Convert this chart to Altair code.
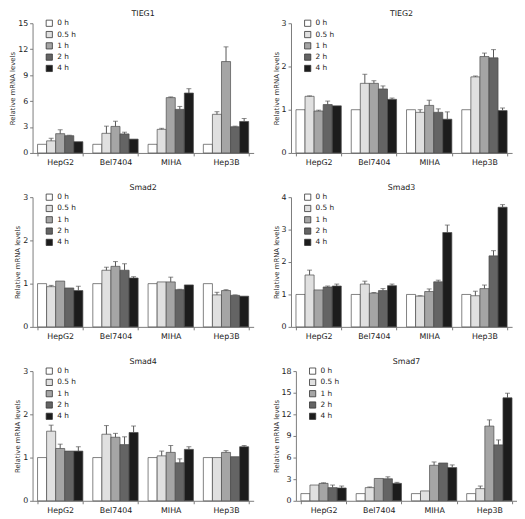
import altair as alt
import pandas as pd

lines = ["HepG2", "Bel7404", "MIHA", "Hep3B"]
times = ["0 h", "0.5 h", "1 h", "2 h", "4 h"]
colors = ["#ffffff", "#e0e0e0", "#a5a5a5", "#646464", "#1c1c1c"]

# means per cell line (5 time points each) and error magnitudes
TIEG1_mean = [1.0, 1.40, 2.23, 2.00, 1.30,  1.0, 2.27, 3.07, 2.20, 1.60,
              1.0, 2.73, 6.40, 5.04, 6.93,  1.0, 4.47, 10.57, 3.03, 3.64]
TIEG1_err = [0, 0.30, 0.45, 0.05, 0,  0, 0.83, 0.60, 0.20, 0,
             0, 0.12, 0.08, 0.34, 0.50,  0, 0.30, 1.70, 0.07, 0.34]

TIEG2_mean = [1.0, 1.31, 0.97, 1.12, 1.09,  1.0, 1.61, 1.61, 1.48, 1.24,
              1.0, 0.94, 1.10, 0.94, 0.78,  1.0, 1.76, 2.23, 2.20, 0.98]
TIEG2_err = [0, 0.01, 0.02, 0.08, 0,  0, 0.21, 0.06, 0.07, 0.03,
             0, 0.06, 0.12, 0.08, 0.17,  0, 0.02, 0.08, 0.19, 0.06]

Smad2_mean = [1.0, 0.93, 1.06, 0.90, 0.84,  1.0, 1.31, 1.40, 1.31, 1.13,
              1.0, 1.04, 1.04, 0.86, 0.97,  1.0, 0.74, 0.84, 0.73, 0.71]
Smad2_err = [0, 0.03, 0, 0, 0.10,  0, 0.07, 0.11, 0.15, 0.03,
             0, 0, 0.11, 0.01, 0,  0, 0.06, 0.02, 0.01, 0]

Smad3_mean = [1.0, 1.60, 1.14, 1.23, 1.26,  1.0, 1.32, 1.04, 1.12, 1.27,
              1.0, 0.95, 1.09, 1.39, 2.91,  1.0, 0.96, 1.18, 2.19, 3.69]
Smad3_err = [0, 0.15, 0, 0.03, 0.06,  0, 0.09, 0.02, 0.06, 0.05,
             0, 0.01, 0.08, 0.05, 0.23,  0, 0.14, 0.11, 0.16, 0.08]

Smad4_mean = [1.0, 1.61, 1.21, 1.15, 1.15,  1.0, 1.54, 1.47, 1.30, 1.58,
              1.0, 1.04, 1.12, 0.88, 1.19,  1.0, 1.00, 1.12, 1.02, 1.25]
Smad4_err = [0, 0.14, 0.10, 0, 0.10,  0, 0.20, 0.09, 0.18, 0.15,
             0, 0.11, 0.16, 0.09, 0.06,  0, 0, 0.04, 0, 0.03]

Smad7_mean = [1.0, 2.19, 2.42, 1.83, 1.78,  1.0, 1.83, 3.10, 3.06, 2.42,
              1.0, 1.37, 4.93, 5.25, 4.61,  1.0, 1.69, 10.37, 7.76, 14.29]
Smad7_err = [0, 0, 0.08, 0.36, 0.27,  0, 0.09, 0, 0.27, 0.14,
             0, 0, 0.46, 0, 0.37,  0, 0.36, 0.86, 0.69, 0.64]

FONT = "DejaVu Sans"
AX = "#7a7a7a"


def panel(name, means, errs, ymax, step):
    rows = []
    i = 0
    for ln in lines:
        for t in times:
            rows.append({"line": ln, "time": t, "mean": means[i], "err": errs[i],
                         "top": means[i] + errs[i]})
            i += 1
    df = pd.DataFrame(rows)
    ticks = list(range(0, ymax + 1, step))
    yscale = alt.Scale(domain=[0, ymax], nice=False, zero=True)
    yaxis = alt.Axis(values=ticks, grid=False, tickSize=3, labelFontSize=8,
                     labelPadding=2, labelFont=FONT, labelColor="#222",
                     labelOverlap=False, domainColor=AX, tickColor=AX,
                     title="Relative mRNA levels", titleFontSize=7,
                     titleFont=FONT, titleFontWeight="normal",
                     titleColor="#333", titlePadding=2)

    def Y(field):
        return alt.Y(field, type="quantitative", scale=yscale, axis=yaxis)

    x = alt.X("line:N", sort=lines, title=None,
              scale=alt.Scale(paddingInner=0.18, paddingOuter=0.09),
              axis=alt.Axis(labelAngle=0, tickBand="extent", tickSize=3,
                            labelFontSize=8, labelPadding=3, labelFont=FONT,
                            domainColor=AX, tickColor=AX, labelColor="#222"))
    xo = alt.XOffset("time:N", sort=times)
    base = alt.Chart(df)
    bars = base.mark_bar(stroke="#4a4a4a", strokeWidth=0.7).encode(
        x=x, xOffset=xo, y=Y("mean"),
        color=alt.Color("time:N", sort=times,
                        scale=alt.Scale(domain=times, range=colors),
                        legend=alt.Legend(orient="none", legendX=13, legendY=-4,
                                          title=None, symbolType="square",
                                          symbolSize=40, symbolStrokeColor="#333",
                                          symbolStrokeWidth=0.8, labelFontSize=7.5,
                                          labelFont=FONT, labelColor="#222",
                                          rowPadding=1.5, padding=0, labelOffset=4)),
    )
    eb = base.transform_filter("datum.err > 0")
    rules = eb.mark_rule(color="#555", strokeWidth=1).encode(
        x=x, xOffset=xo, y=Y("mean"), y2="top:Q")
    caps = eb.mark_tick(color="#555", thickness=1, size=5, orient="horizontal").encode(
        x=x, xOffset=xo, y=Y("top"))
    return alt.layer(bars, rules, caps).properties(
        width=225, height=132,
        title=alt.TitleParams(name, fontSize=8, font=FONT, fontWeight="normal",
                              color="#222", offset=1))


p1 = panel("TIEG1", TIEG1_mean, TIEG1_err, 15, 3)
p2 = panel("TIEG2", TIEG2_mean, TIEG2_err, 3, 1)
p3 = panel("Smad2", Smad2_mean, Smad2_err, 3, 1)
p4 = panel("Smad3", Smad3_mean, Smad3_err, 4, 1)
p5 = panel("Smad4", Smad4_mean, Smad4_err, 3, 1)
p6 = panel("Smad7", Smad7_mean, Smad7_err, 18, 3)

r1 = alt.hconcat(p1, p2, spacing=18).resolve_scale(color="independent")
r2 = alt.hconcat(p3, p4, spacing=18).resolve_scale(color="independent")
r3 = alt.hconcat(p5, p6, spacing=18).resolve_scale(color="independent")

chart = alt.vconcat(r1, r2, r3, spacing=18).resolve_scale(color="independent").properties(
    padding={"left": 0, "top": -2, "right": 0, "bottom": 0}
).configure_view(stroke=None)

chart.save("out.html", embed_options={"renderer": "svg", "actions": False})
